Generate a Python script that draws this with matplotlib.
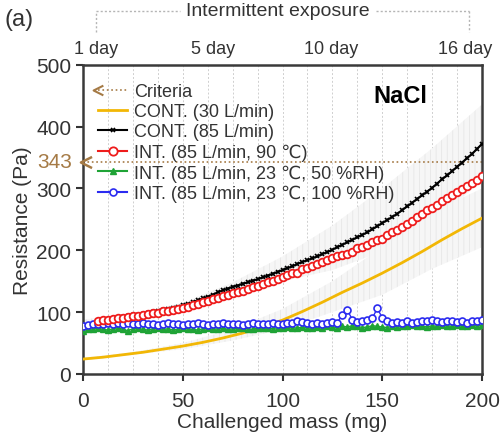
import numpy as np
import matplotlib
matplotlib.use('Agg')
import matplotlib.pyplot as plt
from matplotlib.lines import Line2D
from matplotlib.path import Path
from matplotlib.legend_handler import HandlerLine2D

plt.rcParams['font.family'] = ['Liberation Sans', 'DejaVu Sans']
plt.rcParams['hatch.linewidth'] = 0.5

# challenged mass grid (mg), one point every 2.5 mg
mass = np.linspace(0, 200, 81)

# CONT. (85 L/min) and INT. (85 L/min, 90 C) start at 7.5 mg
cont85 = [86, 87, 88, 89, 91, 92, 93, 95, 96, 97, 99, 100, 102, 104, 105, 107, 109, 111,
          113, 116, 119, 122, 125, 128, 132, 135, 138, 141, 143, 146, 148, 151, 153, 156,
          159, 162, 165, 168, 171, 174, 178, 181, 184, 187, 190, 194, 197, 201, 205, 209,
          213, 217, 221, 225, 229, 234, 239, 244, 249, 254, 259, 265, 271, 277, 283, 289,
          295, 301, 308, 315, 321, 328, 335, 342, 349, 356, 364, 372]
int90 = [86, 87, 88, 89, 90, 91, 92, 93, 94, 95, 97, 98, 99, 101, 102, 104, 105, 107,
         109, 111, 113, 116, 118, 121, 123, 126, 128, 131, 133, 134, 137, 140, 143, 146,
         149, 151, 154, 157, 160, 163, 164, 169, 172, 175, 178, 181, 184, 187, 190, 193,
         194, 197, 203, 206, 209, 213, 217, 219, 224, 229, 233, 238, 243, 247, 254, 259,
         265, 268, 274, 279, 284, 289, 294, 299, 304, 309, 314, 320]
int50 = [70, 72, 73, 74, 72, 71, 73, 75, 72, 70,
         73, 74, 72, 71, 73, 74, 72, 73, 71, 72,
         74, 73, 72, 71, 73, 74, 72, 73, 74, 72,
         73, 74, 75, 73, 72, 74, 75, 74, 73, 75,
         74, 76, 75, 74, 76, 75, 74, 76, 75, 77,
         76, 75, 77, 76, 78, 77, 75, 76, 78, 77,
         76, 75, 77, 76, 78, 77, 79, 78, 77, 76,
         78, 77, 79, 78, 77, 79, 78, 78, 79, 78,
         79]
int100 = [78, 79, 80, 81, 80, 82, 81, 83, 80, 82,
          81, 80, 82, 80, 81, 79, 80, 82, 81, 80,
          79, 81, 80, 82, 80, 79, 81, 80, 82, 80,
          81, 80, 79, 81, 82, 80, 81, 80, 82, 81,
          80, 82, 83, 86, 84, 82, 81, 83, 80, 82,
          84, 83, 96, 103, 88, 84, 85, 87, 90, 106,
          91, 85, 83, 84, 82, 85, 83, 84, 86, 85,
          88, 86, 84, 85, 86, 84, 85, 83, 86, 86,
          87]

# CONT. (30 L/min), every 10 mg
mass_30 = np.linspace(0, 200, 21)
cont30 = [24, 27, 31, 35, 40, 45, 51, 58, 66, 76, 87, 101, 116, 132, 147, 163, 180, 198,
          217, 235, 252]

# shaded spread of the continuous runs
band_x = [0, 25, 50, 75, 100, 125, 150, 175, 200]
cont85_hi = [88, 97, 115, 148, 190, 240, 300, 365, 436]
cont85_lo = [84, 91, 107, 132, 150, 168, 198, 245, 312]
cont30_hi = [26, 35, 50, 72, 105, 150, 205, 262, 300]
cont30_lo = [22, 31, 40, 54, 72, 100, 128, 170, 205]

criteria = 343
day_pos = [6.5, 65, 124.5, 191.5]
day_labels = ['1 day', '5 day', '10 day', '16 day']

brown = '#a57a45'
chevron = Path([(1, 1), (-1, 0), (1, -1)], [Path.MOVETO, Path.LINETO, Path.LINETO])


class ArrowAtLeft(HandlerLine2D):
    # put the criteria arrow head at the left end of the legend line
    def create_artists(self, *args, **kwargs):
        artists = super().create_artists(*args, **kwargs)
        for a in artists:
            a.set_markevery([0])
        return artists


fig = plt.figure(figsize=(5, 4.39), dpi=100)
ax = fig.add_axes([0.166, 0.146, 0.798, 0.704])

ax.fill_between(band_x, cont85_lo, cont85_hi, facecolor='#f6f6f6', edgecolor='#e4e4e4',
                hatch='|||', lw=0, zorder=1)
ax.fill_between(band_x, cont30_lo, cont30_hi, facecolor='#f6f6f6', edgecolor='#e4e4e4',
                hatch='|||', lw=0, zorder=1)

# day boundaries
for d in np.arange(12.5, 200, 12.5):
    ax.axvline(d, color='#cfcfcf', lw=0.7, ls=(0, (2, 2)), zorder=0.5)

ax.axhline(criteria, color=brown, lw=1.2, ls=':', zorder=2)
ax.plot([1.5], [criteria], marker=chevron, color=brown, ms=8, mfc='none', mew=1.8,
        clip_on=False, zorder=6)

ax.plot(mass_30, cont30, color='#f2b705', lw=2, zorder=3)
ax.plot(mass[3:], cont85, color='black', lw=1.5, marker='x', ms=3.5, mew=1.2, zorder=4)
ax.plot(mass[3:], int90, color='#ee1c1c', lw=1, marker='o', ms=5.5, mfc='white',
        mew=1.3, zorder=4)
ax.plot(mass, int50, color='#1fa336', lw=1, marker='^', ms=4.5, zorder=3)
ax.plot(mass, int100, color='#2b2bf0', lw=1, marker='o', ms=5, mfc='white', mew=1.2,
        zorder=3.5)

ax.set_xlim(0, 200)
ax.set_ylim(0, 500)
ax.set_xticks([0, 50, 100, 150, 200])
ax.set_yticks([0, 100, 200, 300, 400, 500])
ax.tick_params(labelsize=15, colors='#333333', width=1.5, length=5, direction='out')
ax.tick_params(axis='x', pad=7)
for s in ax.spines.values():
    s.set_color('#3a3a3a')
    s.set_linewidth(1.8)
ax.set_xlabel('Challenged mass (mg)', fontsize=15, color='#333333', labelpad=2)
ax.set_ylabel('Resistance (Pa)', fontsize=15, color='#333333', labelpad=3)

ax.text(-0.027, criteria, '343', color=brown, fontsize=15, ha='right', va='center',
        transform=ax.get_yaxis_transform())
ax.text(0.795, 0.9, 'NaCl', fontsize=17, fontweight='bold', ha='center', va='center',
        transform=ax.transAxes)

# legend
h_crit = Line2D([], [], color=brown, ls=':', lw=1.2, marker=chevron, mfc='none', mew=1.5,
                ms=7)
h30 = Line2D([], [], color='#f2b705', lw=2)
h85 = Line2D([], [], color='black', lw=1.5, marker='x', ms=3.5, mew=1.2)
h90 = Line2D([], [], color='#ee1c1c', lw=1.5, marker='o', ms=6, mfc='white', mew=1.3)
h50 = Line2D([], [], color='#1fa336', lw=1.5, marker='^', ms=5)
h100 = Line2D([], [], color='#2b2bf0', lw=1.5, marker='o', ms=5, mfc='white', mew=1.2)
labels = ['Criteria', 'CONT. (30 L/min)', 'CONT. (85 L/min)', 'INT. (85 L/min, 90 \u2103)',
          'INT. (85 L/min, 23 \u2103, 50 %RH)', 'INT. (85 L/min, 23 \u2103, 100 %RH)']
leg = ax.legend([h_crit, h30, h85, h90, h50, h100], labels, loc='upper left',
                bbox_to_anchor=(0.02, 0.965), frameon=False, fontsize=13,
                handlelength=1.6, handletextpad=0.4, labelspacing=0.18,
                borderaxespad=0, handler_map={h_crit: ArrowAtLeft()})
for t in leg.get_texts():
    t.set_color('#333333')

# day labels on top
for p, lab in zip(day_pos, day_labels):
    ax.text(p, 1.025, lab, fontsize=13, ha='center', va='bottom', color='#333333',
            transform=ax.get_xaxis_transform())

# intermittent exposure bracket
bx0, bx1, by_top, by_bot = 96 / 500, 469 / 500, 1 - 12 / 439, 1 - 33 / 439
kw = dict(color='#b5b5b5', lw=1, ls=(0, (1.5, 1.5)), transform=fig.transFigure)
fig.add_artist(Line2D([bx0, bx0], [by_bot, by_top], **kw))
fig.add_artist(Line2D([bx0, 180 / 500], [by_top, by_top], **kw))
fig.add_artist(Line2D([376 / 500, bx1], [by_top, by_top], **kw))
fig.add_artist(Line2D([bx1, bx1], [by_top, by_bot], **kw))
fig.text(278 / 500, by_top, 'Intermittent exposure', fontsize=14, ha='center',
         va='center', color='#333333')
fig.text(0.008, 1 - 20 / 439, '(a)', fontsize=17, ha='left', va='center', color='#333333')

fig.savefig('out.png', dpi=100)
